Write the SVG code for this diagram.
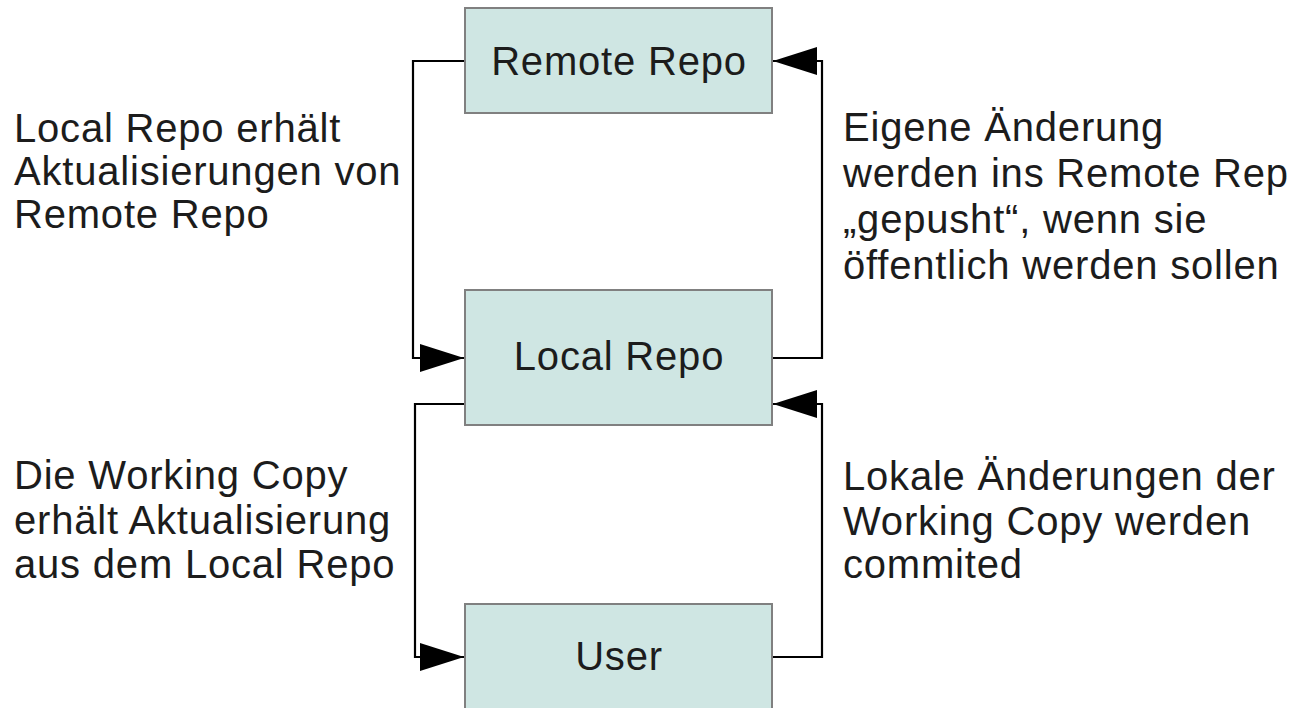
<svg xmlns="http://www.w3.org/2000/svg" width="1300" height="708" viewBox="0 0 1300 708">
<defs>
<style>
.box{fill:#cfe6e3;stroke:#808080;stroke-width:2}
.lbl{font-family:"Liberation Sans",Arial,sans-serif;font-size:40px;letter-spacing:0.8px;fill:#1c1c1c}
.c{text-anchor:middle}
.con{fill:none;stroke:#000;stroke-width:2.2}
</style>
<marker id="arr" markerUnits="userSpaceOnUse" markerWidth="46" markerHeight="30" refX="44" refY="14" orient="auto">
<path d="M0,0 L44,14 L0,28 z" fill="#000"/>
</marker>
</defs>
<rect width="1300" height="708" fill="#fff"/>
<g id="connectors">
<path class="con" d="M465,61 H413 V358 H464" marker-end="url(#arr)"/>
<path class="con" d="M772,358 H822 V61 H773" marker-end="url(#arr)"/>
<path class="con" d="M465,404 H415 V657 H464" marker-end="url(#arr)"/>
<path class="con" d="M772,657 H822 V404 H773" marker-end="url(#arr)"/>
</g>
<g id="remote">
<rect class="box" x="465" y="8" width="307" height="105"/>
<text class="lbl c" x="619" y="75">Remote Repo</text>
</g>
<g id="local">
<rect class="box" x="465" y="290" width="307" height="135"/>
<text class="lbl c" x="619" y="370">Local Repo</text>
</g>
<g id="user">
<rect class="box" x="465" y="604" width="307" height="120"/>
<text class="lbl c" x="619" y="670">User</text>
</g>
<g id="label-pull">
<text class="lbl" x="14" y="142">Local Repo erhält</text>
<text class="lbl" x="14" y="185">Aktualisierungen von</text>
<text class="lbl" x="14" y="228">Remote Repo</text>
</g>
<g id="label-push">
<text class="lbl" x="843" y="141">Eigene Änderung</text>
<text class="lbl" x="843" y="187">werden ins Remote Rep</text>
<text class="lbl" x="843" y="233">„gepusht“, wenn sie</text>
<text class="lbl" x="843" y="279">öffentlich werden sollen</text>
</g>
<g id="label-update">
<text class="lbl" x="14" y="489">Die Working Copy</text>
<text class="lbl" x="14" y="534">erhält Aktualisierung</text>
<text class="lbl" x="14" y="578">aus dem Local Repo</text>
</g>
<g id="label-commit">
<text class="lbl" x="843" y="490">Lokale Änderungen der</text>
<text class="lbl" x="843" y="535">Working Copy werden</text>
<text class="lbl" x="843" y="578">commited</text>
</g>
</svg>
